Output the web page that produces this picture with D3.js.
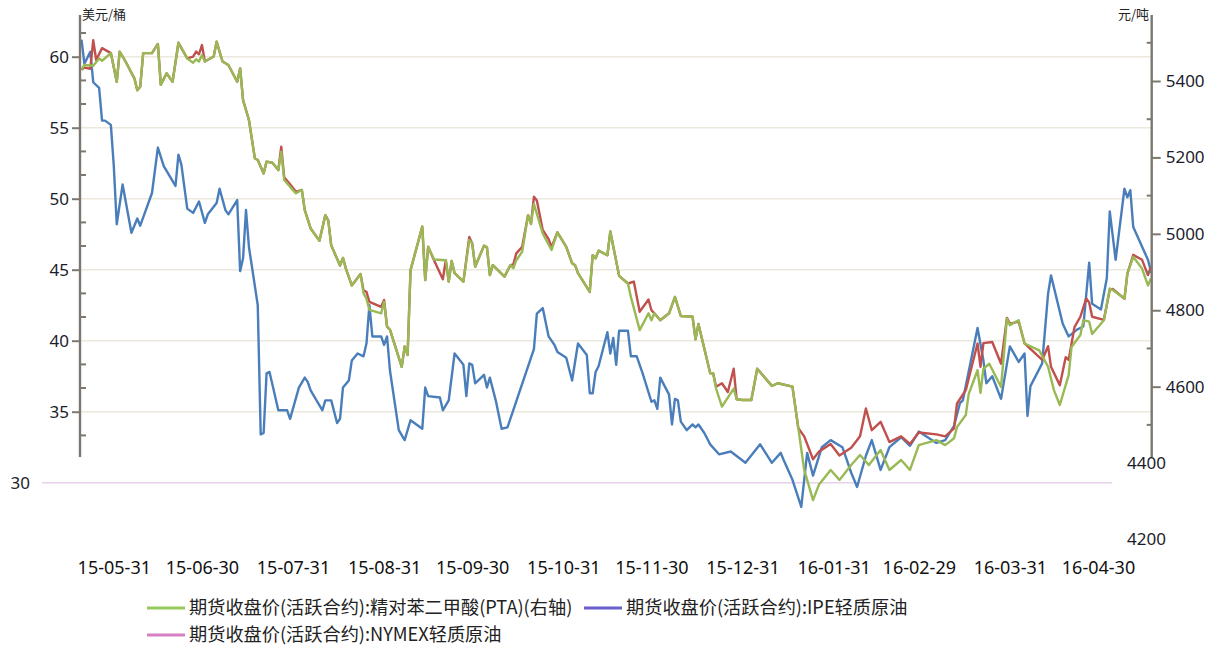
<!DOCTYPE html>
<html><head><meta charset="utf-8">
<script src="https://cdn.jsdelivr.net/npm/d3@7"></script>
<style>
body{margin:0;background:#fff;}
svg{display:block;font-family:"Noto Sans","Noto Sans CJK SC",sans-serif;}
</style></head><body>
<svg id="chart" width="1223" height="650"></svg>
<script>
// ---------- data ----------
const xTickDates  = ["2015-05-31","2015-06-30","2015-07-31","2015-08-31","2015-09-30","2015-10-31","2015-11-30","2015-12-31","2016-01-31","2016-02-29","2016-03-31","2016-04-30"];
const xTickLabels = ["15-05-31","15-06-30","15-07-31","15-08-31","15-09-30","15-10-31","15-11-30","15-12-31","16-01-31","16-02-29","16-03-31","16-04-30"];
const leftTicks  = [35,40,45,50,55,60];
const leftMinor  = [33.33,36.67,38.33,41.67,43.33,46.67,48.33,51.67,53.33,56.67,58.33,61.67];
const leftLowTick = [30];
const rightTicks = [4600,4800,5000,5200,5400];
const rightMinor = [4500,4700,4900,5100,5300,5500];
const rightLowTicks = [4400,4200];
const leftUnit = "美元/桶";
const rightUnit = "元/吨";
const legendNames = ["期货收盘价(活跃合约):精对苯二甲酸(PTA)(右轴)","期货收盘价(活跃合约):IPE轻质原油","期货收盘价(活跃合约):NYMEX轻质原油"];

// blue line, left axis (美元/桶)
const blueSeries = [
["2015-05-20",61.2],["2015-05-21",59.5],["2015-05-23",60.35],["2015-05-24",58.2],["2015-05-26",57.8],["2015-05-27",55.5],["2015-05-28",55.5],["2015-05-30",55.2],["2015-05-31",52.3],
["2015-06-01",48.2],["2015-06-03",51.0],["2015-06-06",47.6],["2015-06-08",48.6],["2015-06-09",48.1],["2015-06-13",50.4],["2015-06-15",53.6],["2015-06-17",52.3],["2015-06-21",50.9],["2015-06-22",53.1],["2015-06-23",52.4],["2015-06-25",49.3],["2015-06-27",49.0],["2015-06-29",49.8],
["2015-07-01",48.3],["2015-07-02",48.9],["2015-07-05",49.7],["2015-07-06",50.7],["2015-07-08",49.2],["2015-07-09",48.9],["2015-07-12",49.9],["2015-07-13",44.9],["2015-07-14",45.8],["2015-07-15",49.2],["2015-07-16",46.6],["2015-07-19",42.5],["2015-07-20",33.4],["2015-07-21",33.5],["2015-07-22",37.7],["2015-07-23",37.8],["2015-07-26",35.1],["2015-07-29",35.1],["2015-07-30",34.5],
["2015-08-02",36.7],["2015-08-04",37.4],["2015-08-05",37.1],["2015-08-06",36.5],["2015-08-10",35.1],["2015-08-11",35.8],["2015-08-13",35.8],["2015-08-15",34.2],["2015-08-16",34.5],["2015-08-17",36.7],["2015-08-19",37.2],["2015-08-20",38.6],["2015-08-22",39.1],["2015-08-24",38.9],["2015-08-25",39.8],["2015-08-26",42.5],["2015-08-27",40.3],["2015-08-30",40.3],["2015-08-31",39.7],
["2015-09-01",40.3],["2015-09-02",37.9],["2015-09-05",33.7],["2015-09-07",33.0],["2015-09-09",34.4],["2015-09-13",33.8],["2015-09-14",36.7],["2015-09-15",36.1],["2015-09-19",36.0],["2015-09-20",35.1],["2015-09-22",35.8],["2015-09-24",39.1],["2015-09-27",38.3],["2015-09-28",36.1],["2015-09-29",38.4],["2015-09-30",38.3],
["2015-10-01",37.0],["2015-10-04",37.6],["2015-10-05",36.7],["2015-10-06",37.4],["2015-10-08",35.8],["2015-10-10",33.8],["2015-10-12",33.9],["2015-10-21",39.4],["2015-10-22",41.9],["2015-10-24",42.3],["2015-10-26",40.3],["2015-10-28",39.7],["2015-10-29",39.2],
["2015-11-01",38.8],["2015-11-03",37.2],["2015-11-05",39.8],["2015-11-08",39.0],["2015-11-09",36.3],["2015-11-10",36.3],["2015-11-11",37.8],["2015-11-12",38.2],["2015-11-15",40.6],["2015-11-16",39.1],["2015-11-17",40.2],["2015-11-18",38.3],["2015-11-19",40.7],["2015-11-22",40.7],["2015-11-23",38.9],["2015-11-25",38.9],["2015-11-27",37.7],["2015-11-30",35.7],
["2015-12-01",35.8],["2015-12-02",35.2],["2015-12-03",37.4],["2015-12-06",36.2],["2015-12-07",34.1],["2015-12-08",35.9],["2015-12-09",35.8],["2015-12-10",34.3],["2015-12-12",33.7],["2015-12-14",34.1],["2015-12-15",33.9],["2015-12-16",34.1],["2015-12-18",33.5],["2015-12-20",32.7],["2015-12-23",32.0],["2015-12-27",32.2],
["2016-01-01",31.4],["2016-01-06",32.7],["2016-01-10",31.4],["2016-01-13",32.1],["2016-01-14",31.6],["2016-01-17",30.2],["2016-01-20",28.3],["2016-01-22",32.1],["2016-01-24",30.5],["2016-01-27",32.5],["2016-01-30",33.0],
["2016-02-03",32.5],["2016-02-06",30.7],["2016-02-08",29.7],["2016-02-11",31.9],["2016-02-13",33.0],["2016-02-16",30.9],["2016-02-19",32.5],["2016-02-23",33.2],["2016-02-26",32.6],["2016-02-29",33.6],
["2016-03-06",32.8],["2016-03-09",33.0],["2016-03-12",34.0],["2016-03-14",35.6],["2016-03-15",35.8],["2016-03-20",40.9],["2016-03-22",38.6],["2016-03-23",37.0],["2016-03-25",37.5],["2016-03-28",35.9],["2016-03-31",39.6],
["2016-04-03",38.5],["2016-04-05",39.1],["2016-04-06",34.7],["2016-04-07",36.8],["2016-04-11",38.4],["2016-04-13",43.3],["2016-04-14",44.6],["2016-04-18",41.2],["2016-04-20",40.3],["2016-04-23",40.8],["2016-04-25",41.0],["2016-04-27",45.5],["2016-04-28",42.6],
["2016-05-01",42.2],["2016-05-03",44.4],["2016-05-04",49.1],["2016-05-06",45.7],["2016-05-09",50.7],["2016-05-10",50.1],["2016-05-11",50.6],["2016-05-12",48.0],["2016-05-17",45.7],["2016-05-18",44.9]
];

// green line, right axis (元/吨)
const greenSeries = [
["2015-05-20",5429],["2015-05-21",5442],["2015-05-24",5440],["2015-05-26",5459],["2015-05-27",5453],["2015-05-30",5473],
["2015-06-01",5398],["2015-06-02",5477],["2015-06-04",5451],["2015-06-07",5407],["2015-06-08",5376],["2015-06-09",5385],["2015-06-10",5473],["2015-06-13",5473],["2015-06-15",5497],["2015-06-16",5390],["2015-06-18",5420],["2015-06-20",5398],["2015-06-22",5500],["2015-06-25",5459],["2015-06-27",5448],["2015-06-28",5457],["2015-06-29",5451],["2015-06-30",5468],
["2015-07-01",5451],["2015-07-04",5464],["2015-07-05",5503],["2015-07-07",5451],["2015-07-09",5442],["2015-07-12",5398],["2015-07-13",5433],["2015-07-14",5350],["2015-07-16",5298],["2015-07-18",5198],["2015-07-19",5193],["2015-07-21",5158],["2015-07-22",5189],["2015-07-24",5186],["2015-07-26",5167],["2015-07-27",5215],["2015-07-28",5141],["2015-07-30",5123],
["2015-08-01",5106],["2015-08-03",5115],["2015-08-04",5062],["2015-08-06",5014],["2015-08-09",4982],["2015-08-11",5049],["2015-08-12",5035],["2015-08-13",4970],["2015-08-16",4917],["2015-08-17",4937],["2015-08-18",4909],["2015-08-20",4865],["2015-08-23",4895],["2015-08-24",4844],["2015-08-25",4830],["2015-08-26",4801],["2015-08-30",4792],["2015-08-31",4822],
["2015-09-01",4757],["2015-09-02",4749],["2015-09-06",4652],["2015-09-07",4705],["2015-09-08",4683],["2015-09-09",4905],["2015-09-13",5019],["2015-09-14",4879],["2015-09-15",4966],["2015-09-17",4933],["2015-09-21",4931],["2015-09-22",4875],["2015-09-23",4929],["2015-09-24",4897],["2015-09-27",4875],["2015-09-29",4984],["2015-09-30",4975],
["2015-10-01",4914],["2015-10-04",4969],["2015-10-05",4965],["2015-10-06",4892],["2015-10-07",4918],["2015-10-11",4888],["2015-10-13",4918],["2015-10-14",4910],["2015-10-15",4931],["2015-10-17",4953],["2015-10-19",5049],["2015-10-20",5026],["2015-10-21",5078],["2015-10-24",5001],["2015-10-27",4958],["2015-10-29",5004],
["2015-11-01",4966],["2015-11-03",4923],["2015-11-04",4918],["2015-11-05",4897],["2015-11-09",4848],["2015-11-10",4944],["2015-11-11",4936],["2015-11-12",4956],["2015-11-15",4944],["2015-11-16",5006],["2015-11-19",4890],["2015-11-22",4870],["2015-11-23",4835],["2015-11-26",4748],["2015-11-29",4792],["2015-11-30",4774],
["2015-12-01",4792],["2015-12-03",4774],["2015-12-06",4792],["2015-12-08",4835],["2015-12-10",4785],["2015-12-14",4783],["2015-12-15",4724],["2015-12-16",4764],["2015-12-20",4635],["2015-12-21",4635],["2015-12-22",4595],["2015-12-24",4548],["2015-12-28",4595],["2015-12-29",4567],["2015-12-31",4565],
["2016-01-03",4565],["2016-01-05",4647],["2016-01-10",4602],["2016-01-12",4609],["2016-01-17",4600],["2016-01-19",4491],["2016-01-21",4382],["2016-01-24",4303],["2016-01-26",4343],["2016-01-30",4382],
["2016-02-02",4356],["2016-02-06",4395],["2016-02-09",4421],["2016-02-12",4395],["2016-02-16",4434],["2016-02-19",4382],["2016-02-23",4408],["2016-02-26",4382],["2016-02-29",4447],
["2016-03-06",4460],["2016-03-09",4447],["2016-03-12",4465],["2016-03-13",4494],["2016-03-16",4526],["2016-03-17",4581],["2016-03-20",4643],["2016-03-21",4584],["2016-03-22",4647],["2016-03-24",4660],["2016-03-28",4599],["2016-03-30",4778],["2016-03-31",4761],
["2016-04-03",4774],["2016-04-05",4713],["2016-04-10",4695],["2016-04-13",4652],["2016-04-15",4591],["2016-04-17",4552],["2016-04-20",4630],["2016-04-21",4704],["2016-04-24",4735],["2016-04-25",4774],["2016-04-27",4770],["2016-04-28",4738],
["2016-05-02",4774],["2016-05-04",4857],["2016-05-05",4853],["2016-05-09",4831],["2016-05-10",4896],["2016-05-12",4940],["2016-05-15",4909],["2016-05-17",4865],["2016-05-18",4883]
];

// red line, right axis (元/吨)
const redSeries = [
["2015-05-20",5429],["2015-05-21",5435],["2015-05-23",5432],["2015-05-24",5507],["2015-05-25",5455],["2015-05-27",5486],["2015-05-30",5473],
["2015-06-01",5398],["2015-06-02",5477],["2015-06-04",5451],["2015-06-07",5407],["2015-06-08",5376],["2015-06-09",5385],["2015-06-10",5473],["2015-06-13",5473],["2015-06-15",5497],["2015-06-16",5390],["2015-06-18",5420],["2015-06-20",5398],["2015-06-22",5500],["2015-06-25",5459],["2015-06-27",5464],["2015-06-28",5477],["2015-06-29",5470],["2015-06-30",5494],
["2015-07-01",5451],["2015-07-04",5464],["2015-07-05",5503],["2015-07-07",5451],["2015-07-09",5442],["2015-07-12",5398],["2015-07-13",5433],["2015-07-14",5350],["2015-07-16",5298],["2015-07-18",5198],["2015-07-19",5193],["2015-07-21",5158],["2015-07-22",5189],["2015-07-24",5186],["2015-07-26",5167],["2015-07-27",5228],["2015-07-28",5148],["2015-07-30",5130],
["2015-08-01",5110],["2015-08-03",5115],["2015-08-04",5062],["2015-08-06",5014],["2015-08-09",4982],["2015-08-11",5049],["2015-08-12",5035],["2015-08-13",4970],["2015-08-16",4917],["2015-08-17",4937],["2015-08-18",4909],["2015-08-20",4865],["2015-08-23",4895],["2015-08-24",4852],["2015-08-25",4848],["2015-08-26",4822],["2015-08-30",4809],["2015-08-31",4827],
["2015-09-01",4757],["2015-09-02",4749],["2015-09-06",4652],["2015-09-07",4705],["2015-09-08",4683],["2015-09-09",4905],["2015-09-13",5019],["2015-09-14",4879],["2015-09-15",4966],["2015-09-17",4931],["2015-09-20",4881],["2015-09-21",4931],["2015-09-22",4875],["2015-09-23",4929],["2015-09-24",4897],["2015-09-27",4875],["2015-09-29",4992],["2015-09-30",4975],
["2015-10-01",4914],["2015-10-04",4969],["2015-10-05",4965],["2015-10-06",4892],["2015-10-07",4918],["2015-10-11",4888],["2015-10-13",4918],["2015-10-14",4920],["2015-10-15",4949],["2015-10-17",4966],["2015-10-19",5049],["2015-10-20",5026],["2015-10-21",5097],["2015-10-22",5087],["2015-10-24",5010],["2015-10-26",4986],["2015-10-27",4965],["2015-10-29",5004],
["2015-11-01",4966],["2015-11-03",4923],["2015-11-04",4918],["2015-11-05",4897],["2015-11-09",4848],["2015-11-10",4944],["2015-11-11",4936],["2015-11-12",4956],["2015-11-15",4944],["2015-11-16",5006],["2015-11-19",4890],["2015-11-22",4870],["2015-11-24",4875],["2015-11-26",4796],["2015-11-29",4828],["2015-11-30",4800],
["2015-12-01",4792],["2015-12-03",4774],["2015-12-06",4792],["2015-12-08",4835],["2015-12-10",4785],["2015-12-14",4783],["2015-12-15",4724],["2015-12-16",4764],["2015-12-20",4635],["2015-12-21",4635],["2015-12-22",4600],["2015-12-24",4609],["2015-12-26",4586],["2015-12-28",4647],["2015-12-29",4567],["2015-12-31",4565],
["2016-01-03",4565],["2016-01-05",4647],["2016-01-10",4602],["2016-01-12",4609],["2016-01-17",4600],["2016-01-19",4491],["2016-01-21",4470],["2016-01-24",4410],["2016-01-26",4430],["2016-01-30",4450],
["2016-02-02",4420],["2016-02-06",4440],["2016-02-09",4470],["2016-02-11",4543],["2016-02-13",4486],["2016-02-16",4508],["2016-02-19",4455],["2016-02-23",4470],["2016-02-26",4450],["2016-02-29",4480],
["2016-03-06",4475],["2016-03-09",4470],["2016-03-12",4491],["2016-03-13",4556],["2016-03-16",4591],["2016-03-18",4652],["2016-03-20",4713],["2016-03-21",4652],["2016-03-22",4714],["2016-03-25",4717],["2016-03-28",4660],["2016-03-30",4780],["2016-03-31",4765],
["2016-04-03",4770],["2016-04-05",4713],["2016-04-11",4670],["2016-04-13",4706],["2016-04-14",4652],["2016-04-17",4604],["2016-04-19",4677],["2016-04-20",4670],["2016-04-22",4756],["2016-04-24",4783],["2016-04-26",4831],["2016-04-27",4820],["2016-04-28",4783],
["2016-05-02",4775],["2016-05-04",4853],["2016-05-05",4856],["2016-05-09",4830],["2016-05-10",4896],["2016-05-12",4945],["2016-05-15",4932],["2016-05-17",4892],["2016-05-18",4913]
];

// ---------- drawing ----------
const parse = d3.timeParse("%Y-%m-%d");
const svg = d3.select("#chart");
const yTickFont = "17px";
const xTickFont = "18px";
const axisColor = "#7c786f";
const textColor = "#1c1c2c";

const x = d3.scaleTime().domain([parse("2015-05-31"), parse("2016-04-30")]).range([113.8, 1098]);
const yL = d3.scaleLinear().domain([30, 60]).range([482.7, 56.7]);
const yR = d3.scaleLinear().domain([4200, 5400]).range([539.5, 81]);

const plotLeft = 80, plotRight = 1151.7, axisTop = 15, axisBottom = 457;

// gridlines
svg.append("g").selectAll("line").data(leftTicks).join("line")
  .attr("x1", plotLeft).attr("x2", plotRight)
  .attr("y1", d => yL(d)).attr("y2", d => yL(d))
  .attr("stroke", "#ece8dc").attr("stroke-width", 1.6);
svg.append("g").selectAll("line").data(leftLowTick).join("line")
  .attr("x1", 42).attr("x2", 1112)
  .attr("y1", d => yL(d)).attr("y2", d => yL(d))
  .attr("stroke", "#e6d3ea").attr("stroke-width", 1.4);

// lines
const lineL = d3.line().x(d => x(parse(d[0]))).y(d => yL(d[1]));
const lineR = d3.line().x(d => x(parse(d[0]))).y(d => yR(d[1]));
svg.append("path").datum(blueSeries).attr("d", lineL)
  .attr("fill","none").attr("stroke","#4a7ebb").attr("stroke-width",2.4).attr("stroke-linejoin","round");
svg.append("path").datum(redSeries).attr("d", lineR)
  .attr("fill","none").attr("stroke","#c0504d").attr("stroke-width",2.4).attr("stroke-linejoin","round");
svg.append("path").datum(greenSeries).attr("d", lineR)
  .attr("fill","none").attr("stroke","#98b954").attr("stroke-width",2.4).attr("stroke-linejoin","round");

// left axis
const gL = svg.append("g").attr("transform", `translate(${plotLeft},0)`)
  .call(d3.axisLeft(yL).tickValues(leftTicks).tickSize(8).tickPadding(3).tickFormat(d3.format("d")));
gL.select(".domain").remove();
gL.selectAll(".tick line").attr("stroke", axisColor).attr("stroke-width", 2);
gL.selectAll(".tick text").attr("font-size", yTickFont).attr("fill", textColor).attr("font-family","Noto Sans");
gL.append("g").selectAll("line").data(leftMinor).join("line")
  .attr("x1", 0).attr("x2", 6).attr("y1", d => yL(d)).attr("y2", d => yL(d))
  .attr("stroke", axisColor).attr("stroke-width", 2);
gL.append("line").attr("x1",0).attr("x2",0).attr("y1",axisTop).attr("y2",axisBottom)
  .attr("stroke", axisColor).attr("stroke-width", 2.4);
svg.append("g").selectAll("text").data(leftLowTick).join("text")
  .attr("x", 30).attr("y", d => yL(d)).attr("dy","0.35em").attr("text-anchor","end")
  .attr("font-size", yTickFont).attr("fill",textColor).text(d => d);

// right axis
const gR = svg.append("g").attr("transform", `translate(${plotRight},0)`)
  .call(d3.axisRight(yR).tickValues(rightTicks).tickSize(9).tickPadding(5).tickFormat(d3.format("d")));
gR.select(".domain").remove();
gR.selectAll(".tick line").attr("stroke", axisColor).attr("stroke-width", 2);
gR.selectAll(".tick text").attr("font-size", yTickFont).attr("fill", textColor).attr("font-family","Noto Sans");
gR.append("g").selectAll("line").data(rightMinor).join("line")
  .attr("x1", -5).attr("x2", 0).attr("y1", d => yR(d)).attr("y2", d => yR(d))
  .attr("stroke", axisColor).attr("stroke-width", 2);
gR.append("line").attr("x1",0).attr("x2",0).attr("y1",axisTop).attr("y2",axisBottom)
  .attr("stroke", axisColor).attr("stroke-width", 2.4);
svg.append("g").selectAll("text").data(rightLowTicks).join("text")
  .attr("x", 1127).attr("y", d => yR(d)).attr("dy","0.35em")
  .attr("font-size", yTickFont).attr("fill",textColor).text(d => d);

// unit labels
svg.append("text").attr("x", 82).attr("y", 19).attr("font-size","13px").attr("fill","#222")
  .attr("font-family","Noto Sans CJK SC").text(leftUnit);
svg.append("text").attr("x", 1149).attr("y", 19).attr("font-size","13px").attr("fill","#222")
  .attr("text-anchor","end").attr("font-family","Noto Sans CJK SC").text(rightUnit);

// x axis labels
const gX = svg.append("g").attr("transform","translate(0,555)")
  .call(d3.axisBottom(x).tickValues(xTickDates.map(parse)).tickSize(0).tickPadding(6)
    .tickFormat((d,i) => xTickLabels[i]));
gX.select(".domain").remove();
gX.selectAll(".tick text").attr("font-size", xTickFont).attr("fill","#111").attr("font-family","Noto Sans");

// legend
const legendItems = [
  {name: legendNames[0], color: "#98c95c", lx: 147, ly: 608},
  {name: legendNames[1], color: "#6b5fcd", lx: 584, ly: 608},
  {name: legendNames[2], color: "#d580c2", lx: 147, ly: 635}
];
const lg = svg.append("g").selectAll("g").data(legendItems).join("g")
  .attr("transform", d => `translate(${d.lx},${d.ly})`);
lg.append("line").attr("x1",0).attr("x2",38).attr("y1",0).attr("y2",0)
  .attr("stroke", d => d.color).attr("stroke-width", 3);
lg.append("text").attr("x", 42).attr("dy","0.35em").attr("font-size","18.2px").attr("fill","#222")
  .attr("font-family","Noto Sans CJK SC").text(d => d.name);
</script>
</body></html>
